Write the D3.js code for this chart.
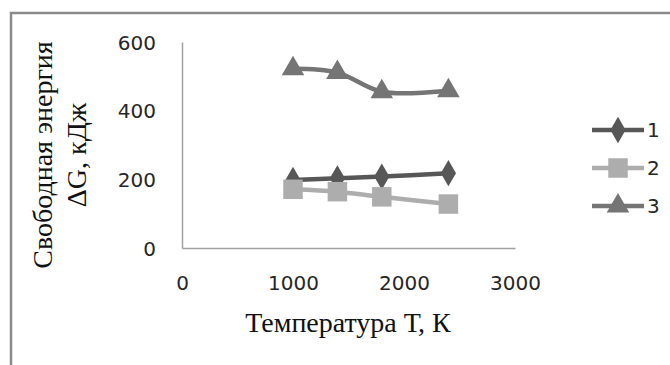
<!DOCTYPE html>
<html>
<head>
<meta charset="utf-8">
<script src="https://cdn.jsdelivr.net/npm/d3@7"></script>
<style>
  body { margin: 0; background: #fff; }
  svg { display: block; }
</style>
</head>
<body>
<svg id="chart" width="670" height="365"></svg>
<script>
// temperatures, K
var temps = [1000, 1400, 1800, 2400];
// free energy, kJ
var series1 = [198, 203, 208, 218];
var series2 = [171, 164, 149, 128];
var series3 = [522, 511, 455, 458];
var seriesNames = ["1", "2", "3"];
var xTicks = [0, 1000, 2000, 3000];
var yTicks = [0, 200, 400, 600];

var colors = ["#575757", "#adadad", "#757575"];
var symbols = [d3.symbolDiamond, d3.symbolSquare, d3.symbolTriangle];
var symSize = [200, 380, 220];

var svg = d3.select("#chart");

// frame of the chart (right and bottom edges are cut off in the picture)
svg.append("path")
    .attr("d", "M11,365 L11,13 L670,13")
    .attr("fill", "none")
    .attr("stroke", "#8a8a8a")
    .attr("stroke-width", 2.5);

var x = d3.scaleLinear().domain([0, 3000]).range([182, 515]);
var y = d3.scaleLinear().domain([0, 600]).range([248, 42]);

// axes
var xAxis = svg.append("g")
    .attr("transform", "translate(0," + y(0) + ")")
    .call(d3.axisBottom(x).tickValues(xTicks).tickFormat(d3.format("d")).tickSize(0));
var yAxis = svg.append("g")
    .attr("transform", "translate(" + x(0) + ",0)")
    .call(d3.axisLeft(y).tickValues(yTicks).tickFormat(d3.format("d")).tickSize(0));

[xAxis, yAxis].forEach(function(a) {
  a.attr("font-family", "DejaVu Sans").attr("font-size", 20);
  a.select(".domain").attr("stroke", "#a0a0a0").attr("stroke-width", 1.5);
  a.selectAll("text").attr("fill", "#262626");
});
xAxis.selectAll("text").attr("dy", "0.36em").attr("y", 35);
yAxis.selectAll("text").attr("x", -26).attr("dy", "0.36em");

// axis titles
svg.append("text")
    .attr("x", 348).attr("y", 332)
    .attr("text-anchor", "middle")
    .attr("font-family", "Liberation Serif")
    .attr("font-size", 28)
    .attr("fill", "#111")
    .text("Температура Т, К");

var yTitle = svg.append("text")
    .attr("transform", "translate(52,155) rotate(-90)")
    .attr("text-anchor", "middle")
    .attr("font-family", "Liberation Serif")
    .attr("font-size", 28)
    .attr("fill", "#111");
yTitle.append("tspan").attr("x", 0).attr("y", 0).text("Свободная энергия");
yTitle.append("tspan").attr("x", 0).attr("y", 34).text("ΔG, кДж");

// lines and markers
var allSeries = [series1, series2, series3];
var line = d3.line()
    .x(function(d, i) { return x(temps[i]); })
    .y(function(d) { return y(d); })
    .curve(d3.curveCatmullRom);

allSeries.forEach(function(vals, k) {
  svg.append("path")
      .datum(vals)
      .attr("d", line)
      .attr("fill", "none")
      .attr("stroke", colors[k])
      .attr("stroke-width", 4.5)
      .attr("stroke-linejoin", "round");
  svg.selectAll(".m" + k)
    .data(vals)
    .enter().append("path")
      .attr("class", "m" + k)
      .attr("transform", function(d, i) {
        return "translate(" + x(temps[i]) + "," + y(d) + ")";
      })
      .attr("d", d3.symbol().type(symbols[k]).size(symSize[k]))
      .attr("fill", colors[k]);
});

// legend
var legY = [130, 168, 206];
seriesNames.forEach(function(name, k) {
  var g = svg.append("g").attr("transform", "translate(0," + legY[k] + ")");
  g.append("line")
      .attr("x1", 592).attr("x2", 644)
      .attr("stroke", colors[k])
      .attr("stroke-width", 4.5);
  g.append("path")
      .attr("transform", "translate(618,0)")
      .attr("d", d3.symbol().type(symbols[k]).size(symSize[k]))
      .attr("fill", colors[k]);
  g.append("text")
      .attr("x", 647).attr("dy", "0.36em")
      .attr("font-family", "DejaVu Sans")
      .attr("font-size", 20)
      .attr("fill", "#262626")
      .text(name);
});
</script>
</body>
</html>
